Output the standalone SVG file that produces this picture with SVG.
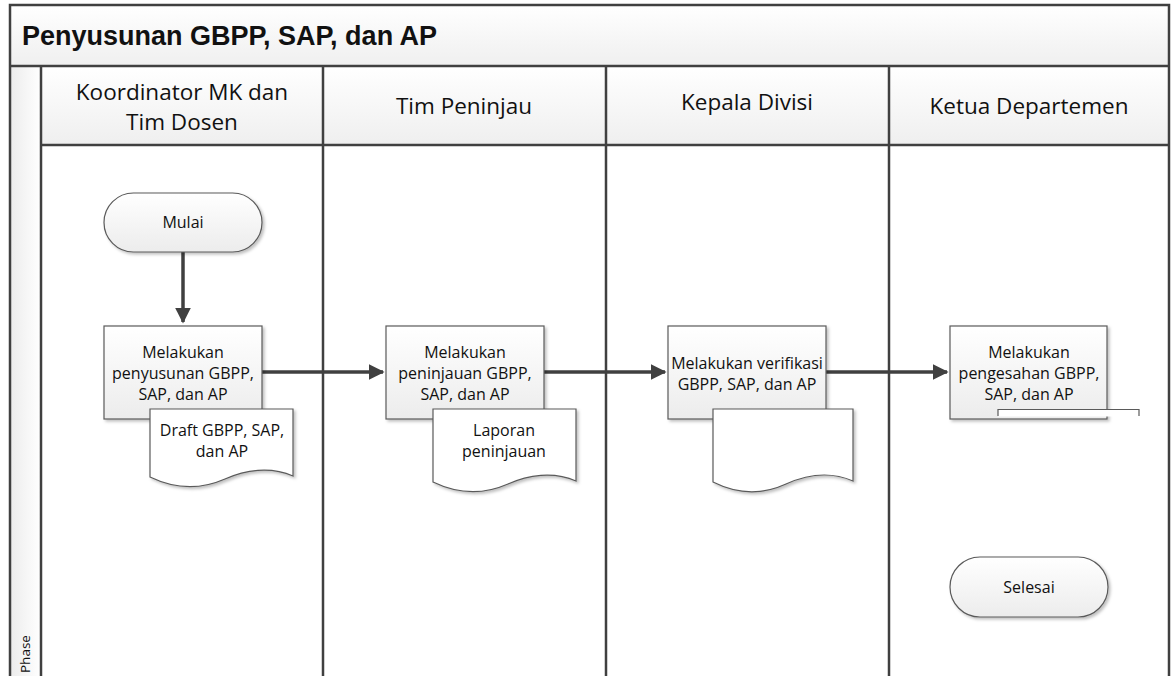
<svg xmlns="http://www.w3.org/2000/svg" width="1173" height="676" viewBox="0 0 1173 676">
<style>
.lane{fill:none;stroke:#404040;stroke-width:2.5}
.hdr{font-family:"Open Sans","Noto Sans",sans-serif;font-size:22.5px;fill:#111;text-anchor:middle}
.shape{fill:url(#g);stroke:#5a5a5a;stroke-width:1.2;filter:url(#sh)}
.doc{fill:#fff;stroke:#5a5a5a;stroke-width:1.2;filter:url(#sh)}
.t{font-family:"Open Sans","Noto Sans",sans-serif;font-size:16px;fill:#111;text-anchor:middle}
.conn{fill:none;stroke:#404040;stroke-width:3.5}
</style>
<defs>
<linearGradient id="g" x1="0" y1="0" x2="0" y2="1"><stop offset="0" stop-color="#ffffff"/><stop offset="1" stop-color="#ececec"/></linearGradient>
<linearGradient id="gh" x1="0" y1="0" x2="0" y2="1"><stop offset="0" stop-color="#ffffff"/><stop offset="1" stop-color="#efefef"/></linearGradient>
<linearGradient id="gp" x1="0" y1="0" x2="1" y2="0"><stop offset="0" stop-color="#ececec"/><stop offset="1" stop-color="#ffffff"/></linearGradient>
<filter id="sh" x="-10%" y="-10%" width="130%" height="130%"><feDropShadow dx="2" dy="2" stdDeviation="1.5" flood-color="#000" flood-opacity="0.25"/></filter>
<marker id="ah" viewBox="0 0 10 10" refX="9" refY="5" markerWidth="4.5" markerHeight="4.5" orient="auto" markerUnits="strokeWidth"><path d="M0,0 L10,5 L0,10 Z" fill="#404040"/></marker>
</defs>
<rect x="0" y="0" width="1173" height="676" fill="#fff"/>
<g id="pool">
<rect x="10" y="5" width="1159" height="61" fill="url(#gh)"/>
<rect x="10" y="66" width="31" height="610" fill="url(#gp)"/>
<rect x="41" y="66" width="1128" height="79" fill="url(#gh)"/>
<text x="22" y="45" font-family="Liberation Sans,Arial,sans-serif" font-weight="bold" font-size="27" fill="#111">Penyusunan GBPP, SAP, dan AP</text>
<text transform="translate(30,673) rotate(-90)" font-family="Open Sans,Noto Sans,sans-serif" font-size="13.5" fill="#111">Phase</text>
<path class="lane" d="M10,680 V5 H1169 V680"/>
<path class="lane" d="M10,66 H1169 M41,66 V680 M41,145 H1169 M323,66 V680 M606,66 V680 M889,66 V680"/>
</g>
<g id="lane-headers">
<text class="hdr" x="182" y="100">Koordinator MK dan</text>
<text class="hdr" x="182" y="130">Tim Dosen</text>
<text class="hdr" x="464" y="114">Tim Peninjau</text>
<text class="hdr" x="747" y="110" font-family="Liberation Sans,Arial,sans-serif" font-size="20.5">Kepala Divisi</text>
<text class="hdr" x="1029" y="114">Ketua Departemen</text>
</g>
<g id="connectors">
<path class="conn" d="M183,252 V322" marker-end="url(#ah)"/>
<path class="conn" d="M262,372 H383" marker-end="url(#ah)"/>
<path class="conn" d="M544,372 H665" marker-end="url(#ah)"/>
<path class="conn" d="M826,372 H947" marker-end="url(#ah)"/>
</g>
<g id="mulai">
<rect class="shape" x="104" y="193" width="158" height="59" rx="29.5"/>
<text class="t" x="183" y="228">Mulai</text>
</g>
<g id="p1">
<rect class="shape" x="104" y="326" width="158" height="93"/>
<text class="t" x="183" y="358">Melakukan</text>
<text class="t" x="183" y="379">penyusunan GBPP,</text>
<text class="t" x="183" y="400">SAP, dan AP</text>
</g>
<g id="d1">
<path class="doc" d="M150,409 H293 V476 C270,466 245,470 225,479 C200,490 175,489 150,477 Z"/>
<text class="t" x="222" y="436">Draft GBPP, SAP,</text>
<text class="t" x="222" y="457">dan AP</text>
</g>
<g id="p2">
<rect class="shape" x="386" y="326" width="158" height="93"/>
<text class="t" x="465" y="358">Melakukan</text>
<text class="t" x="465" y="379">peninjauan GBPP,</text>
<text class="t" x="465" y="400">SAP, dan AP</text>
</g>
<g id="d2">
<path class="doc" d="M433,409 H576 V481 C553,471 528,475 508,484 C483,495 458,494 433,482 Z"/>
<text class="t" x="504" y="436">Laporan</text>
<text class="t" x="504" y="457">peninjauan</text>
</g>
<g id="p3">
<rect class="shape" x="668" y="326" width="158" height="93"/>
<text class="t" x="747" y="369">Melakukan verifikasi</text>
<text class="t" x="747" y="390">GBPP, SAP, dan AP</text>
</g>
<g id="d3">
<path class="doc" d="M713,409 H853 V481 C830,471 806,475 786,484 C762,495 737,494 713,482 Z"/>
</g>
<g id="p4">
<rect class="shape" x="950" y="326" width="157" height="93"/>
<text class="t" x="1029" y="358">Melakukan</text>
<text class="t" x="1029" y="379">pengesahan GBPP,</text>
<text class="t" x="1029" y="400">SAP, dan AP</text>
</g>
<g id="d4">
<rect x="998" y="409.5" width="141" height="7" fill="#fff"/>
<path d="M998,416 V409.5 H1139 V416" fill="none" stroke="#5a5a5a" stroke-width="1.2"/>
</g>
<g id="selesai">
<rect class="shape" x="950" y="557" width="158" height="60" rx="30"/>
<text class="t" x="1029" y="593">Selesai</text>
</g>
</svg>
